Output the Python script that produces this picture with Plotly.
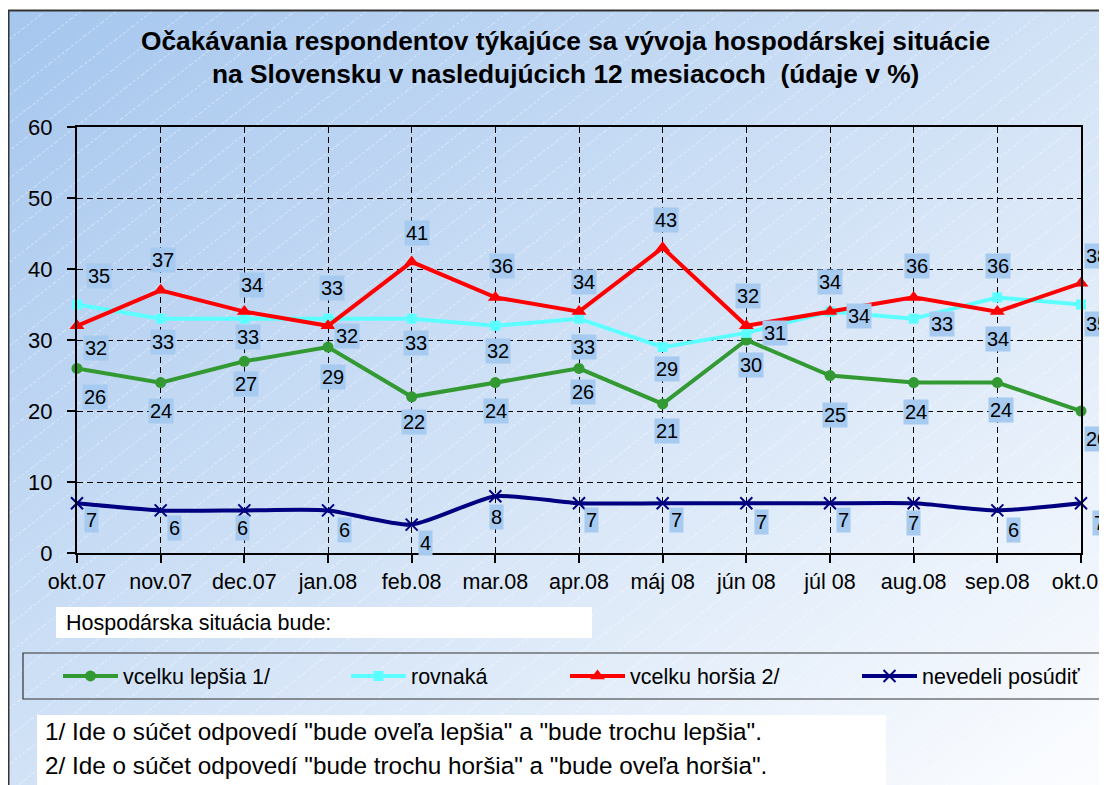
import base64
import plotly.graph_objects as go

# ---------------- data ----------------
months = ["okt.07", "nov.07", "dec.07", "jan.08", "feb.08", "mar.08", "apr.08",
          "máj 08", "jún 08", "júl 08", "aug.08", "sep.08", "okt.08"]
better = [26, 24, 27, 29, 22, 24, 26, 21, 30, 25, 24, 24, 20]
same = [35, 33, 33, 33, 33, 32, 33, 29, 31, 34, 33, 36, 35]
worse = [32, 37, 34, 32, 41, 36, 34, 43, 32, 34, 36, 34, 38]
dontknow = [7, 6, 6, 6, 4, 8, 7, 7, 7, 7, 7, 6, 7]
series_names = ["vcelku lepšia 1/", "rovnaká", "vcelku horšia 2/", "nevedeli posúdiť"]
y_ticks = [0, 10, 20, 30, 40, 50, 60]

title_lines = ["Očakávania respondentov týkajúce sa vývoja hospodárskej situácie",
               "na Slovensku v nasledujúcich 12 mesiacoch  (údaje v %)"]
subtitle = "Hospodárska situácia bude:"
notes = ['1/ Ide o súčet odpovedí "bude oveľa lepšia" a "bude trochu lepšia".',
         '2/ Ide o súčet odpovedí "bude trochu horšia" a "bude oveľa horšia".']

# ---------------- label placement (pixel offsets, dx right / dy down) ----------------
off_better = [(18, 29), (0, 28), (2, 23), (5, 30), (2, 25), (1, 28), (4, 24),
              (4, 27), (5, 25), (5, 39), (2, 29), (4, 27), (16, 28)]
off_same = [(22, -29), (2, 23), (4, 18), (4, -31), (4, 24), (3, 25), (5, 28),
            (4, 22), (29, 0), (29, 4), (28, 5), (1, -31), (16, 19)]
off_worse = [(19, 22), (2, -30), (8, -27), (19, 10), (5, -29), (7, -31), (5, -30),
             (3, -28), (2, -30), (0, -30), (3, -31), (1, 27), (16, -27)]
off_dk = [(14, 17), (14, 18), (-2, 18), (16, 20), (14, 18), (1, 21), (12, 17),
          (14, 17), (15, 19), (13, 17), (0, 20), (16, 20), (18, 20)]

# ---------------- styles ----------------
# the page body has an 8px default margin, so the figure is drawn 8px in from the window
BODY = 8
WIN_W, WIN_H = 1107, 785
W_PX, H_PX = WIN_W - BODY, WIN_H - BODY
L, R, T, B = 77, 1081, 127, 553          # plot area in window pixels
FONT = "Liberation Sans, Arial, sans-serif"
colors = ["#339933", "#5CFFFF", "#FF0000", "#000080"]
symbols = ["circle", "square", "triangle-up", "x-thin"]
msizes = [11, 10, 13, 12]
LABEL_BG = "#A6CAF0"


def px(xp):
    return (xp - L) / (R - L)


def py(yp):
    return (B - yp) / (B - T)


def cx(xp):
    return (xp - BODY) / W_PX


def cy(yp):
    return 1 - (yp - BODY) / H_PX


xs = list(range(len(months)))
values = [better, same, worse, dontknow]
offsets = [off_better, off_same, off_worse, off_dk]

fig = go.Figure()
legend_ids = ["legend", "legend2", "legend3", "legend4"]
for i, (name, vals) in enumerate(zip(series_names, values)):
    fig.add_trace(go.Scatter(
        x=xs, y=vals, name=name, mode="lines+markers",
        line=dict(color=colors[i], width=4,
                  shape="spline" if i == 3 else "linear", smoothing=0.6),
        marker=dict(symbol=symbols[i], size=msizes[i], color=colors[i],
                    line=dict(color=colors[i], width=2 if i == 3 else 0)),
        cliponaxis=False, legend=legend_ids[i],
    ))

annotations = []
for vals, offs in zip(values, offsets):
    for x, v, (dx, dy) in zip(xs, vals, offs):
        annotations.append(dict(
            x=x, y=v, xref="x", yref="y", text=str(v), showarrow=False,
            xshift=dx, yshift=-dy, bgcolor=LABEL_BG, borderpad=1,
            font=dict(family=FONT, size=20, color="black"),
        ))

# title
for line, yc in zip(title_lines, [39, 72]):
    annotations.append(dict(
        x=px(565), y=py(yc + 2), xref="paper", yref="paper", text=line,
        showarrow=False, xanchor="center", yanchor="middle",
        font=dict(family=FONT, size=26.3, color="black", weight="bold"),
    ))

annotations.append(dict(
    x=px(64), y=py(623), xref="paper", yref="paper", text=subtitle,
    showarrow=False, xanchor="left", yanchor="middle",
    font=dict(family=FONT, size=21.5, color="black"),
))
for line, yc in zip(notes, [731, 765]):
    annotations.append(dict(
        x=px(43), y=py(yc), xref="paper", yref="paper", text=line,
        showarrow=False, xanchor="left", yanchor="middle",
        font=dict(family=FONT, size=24.3, color="black"),
    ))

# background (gradient + faint hatch)
svg = """<svg xmlns='http://www.w3.org/2000/svg' width='1100' height='775' viewBox='0 0 1100 775' preserveAspectRatio='none'>
<defs>
<linearGradient id='g' x1='0' y1='0' x2='1' y2='1'>
<stop offset='0' stop-color='#a5c6ee'/>
<stop offset='0.55' stop-color='#d6e5f7'/>
<stop offset='1' stop-color='#fcfdff'/>
</linearGradient>
<pattern id='p' width='22' height='22' patternUnits='userSpaceOnUse' patternTransform='rotate(-38)'>
<line x1='0' y1='0.5' x2='22' y2='0.5' stroke='white' stroke-opacity='0.4' stroke-width='1' stroke-dasharray='3 2'/>
</pattern>
</defs>
<rect width='1100' height='775' fill='url(#g)'/>
<rect width='1100' height='775' fill='url(#p)'/>
</svg>"""
src = "data:image/svg+xml;base64," + base64.b64encode(svg.encode()).decode()

shapes = [
    # outer frame
    dict(type="rect", xref="paper", yref="paper", x0=px(8.5), x1=px(1130),
         y0=py(800), y1=py(10.5), line=dict(color="#333333", width=2), layer="below"),
    # subtitle box
    dict(type="rect", xref="paper", yref="paper", x0=px(56), x1=px(592),
         y0=py(638), y1=py(607), fillcolor="white", line=dict(width=0), layer="below"),
    # legend box
    dict(type="rect", xref="paper", yref="paper", x0=px(23), x1=px(1130),
         y0=py(699), y1=py(653), line=dict(color="#333333", width=1.2), layer="below"),
    # notes box
    dict(type="rect", xref="paper", yref="paper", x0=px(37), x1=px(886),
         y0=py(800), y1=py(715), fillcolor="white", line=dict(width=0), layer="below"),
]

legend_x = [64, 352, 571, 863]
layout_legends = {}
for lid, lx in zip(legend_ids, legend_x):
    layout_legends[lid] = dict(
        xref="container", yref="container",
        x=cx(lx - 6), y=cy(676), xanchor="left", yanchor="middle",
        bgcolor="rgba(0,0,0,0)", borderwidth=0, itemwidth=55,
        font=dict(family=FONT, size=21.5, color="black"),
    )

fig.update_layout(
    width=W_PX, height=H_PX, autosize=False,
    margin=dict(l=L - BODY, r=WIN_W - R, t=T - BODY, b=WIN_H - B, pad=0,
                autoexpand=False),
    paper_bgcolor="white", plot_bgcolor="rgba(0,0,0,0)",
    showlegend=True,
    annotations=annotations, shapes=shapes,
    images=[dict(source=src, xref="paper", yref="paper", x=px(9), y=py(11),
                 sizex=px(WIN_W) - px(9), sizey=py(11) - py(WIN_H),
                 xanchor="left", yanchor="top", sizing="stretch", layer="below")],
    **layout_legends,
)
fig.update_xaxes(
    range=[0, len(months) - 1], tickvals=xs, ticktext=months,
    showline=True, linecolor="black", linewidth=2, mirror=True,
    ticks="outside", ticklen=8, tickwidth=1.5, tickcolor="black",
    showgrid=True, gridcolor="black", gridwidth=1, griddash="6px,4px",
    zeroline=False, tickfont=dict(family=FONT, size=21.5, color="black"),
    ticklabeloverflow="allow", fixedrange=True,
)
fig.update_yaxes(
    range=[0, 60], tickvals=y_ticks,
    showline=True, linecolor="black", linewidth=2, mirror=True,
    ticks="outside", ticklen=8, tickwidth=1.5, tickcolor="black",
    showgrid=True, gridcolor="black", gridwidth=1, griddash="6px,4px",
    zeroline=False, tickfont=dict(family=FONT, size=22, color="black"),
    ticklabelstandoff=10, fixedrange=True,
)

fig.write_html("out.html")
